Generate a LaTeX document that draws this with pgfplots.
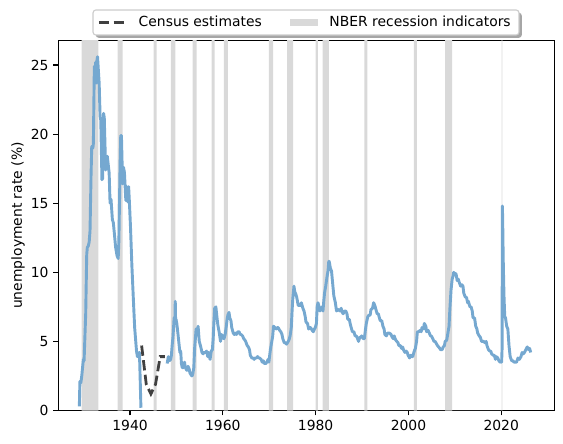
\documentclass[border=0pt]{standalone}
\usepackage{pgfplots}
\pgfplotsset{compat=1.18}
\usepackage{fontspec}
\setmainfont{DejaVu Sans}
\definecolor{recgray}{RGB}{217,217,217}
\definecolor{blueln}{RGB}{117,168,208}
\definecolor{censusc}{RGB}{64,64,64}
\begin{document}
\begin{tikzpicture}
\useasboundingbox (-42pt,-23.4pt) rectangle (363.4pt,295.6pt);
% legend frame and shadow
\fill[black!35, rounded corners=2pt] (27pt,268.4pt) rectangle (333.7pt,286.4pt);
\filldraw[fill=white, draw=black!20, line width=0.8pt, rounded corners=2pt] (25pt,270.4pt) rectangle (331.7pt,288.4pt);
\begin{axis}[
  at={(0pt,0pt)}, anchor=south west,
  width=357.1pt, height=266.3pt, scale only axis,
  xmin=1924.55, xmax=2031.42, ymin=0, ymax=26.76,
  xtick={1940,1960,1980,2000,2020},
  ytick={0,5,10,15,20,25},
  /pgf/number format/1000 sep={},
  /pgf/number format/assume math mode=true,
  tick pos=left, tick align=outside, major tick length=3.5pt,
  every tick/.style={black, line width=0.8pt},
  axis line style={line width=0.8pt},
  tick label style={font=\fontsize{10}{12}\selectfont},
  ylabel={unemployment rate (\%)},
  ylabel style={at={(axis description cs:-0.0812,0.5)}, anchor=center, rotate=0, font=\fontsize{10}{12}\selectfont},
  legend columns=2,
  legend cell align=left,
  legend style={at={(axis description cs:0.07897,1.0492)}, anchor=west,
    draw=none, fill=none, inner sep=0pt, outer sep=0pt,
    nodes={inner sep=0pt, outer sep=0pt},
    font=\fontsize{10}{12}\selectfont,
    /tikz/every even column/.append style={column sep=20.6pt}},
]
% NBER recession bands
\addplot[fill=recgray, draw=none, forget plot] coordinates {
(1929.58,0)(1929.58,30)(1933.17,30)(1933.17,0)
(1937.33,0)(1937.33,30)(1938.42,30)(1938.42,0)
(1945.08,0)(1945.08,30)(1945.75,30)(1945.75,0)
(1948.83,0)(1948.83,30)(1949.75,30)(1949.75,0)
(1953.50,0)(1953.50,30)(1954.33,30)(1954.33,0)
(1957.58,0)(1957.58,30)(1958.25,30)(1958.25,0)
(1960.25,0)(1960.25,30)(1961.08,30)(1961.08,0)
(1969.92,0)(1969.92,30)(1970.83,30)(1970.83,0)
(1973.83,0)(1973.83,30)(1975.17,30)(1975.17,0)
(1980.00,0)(1980.00,30)(1980.50,30)(1980.50,0)
(1981.50,0)(1981.50,30)(1982.83,30)(1982.83,0)
(1990.50,0)(1990.50,30)(1991.17,30)(1991.17,0)
(2001.17,0)(2001.17,30)(2001.83,30)(2001.83,0)
(2007.92,0)(2007.92,30)(2009.42,30)(2009.42,0)
(2020.08,0)(2020.08,30)(2020.25,30)(2020.25,0)
};
% early series
\addplot[blueln, line width=2.1pt, line join=round, forget plot] coordinates {
(1929.08,0.3)(1929.20,2.1)(1929.40,2.0)(1929.60,2.5)(1929.80,3.2)(1929.95,3.7)
(1930.10,3.6)(1930.45,7.0)(1930.67,11.3)(1930.80,11.8)(1931.00,11.9)(1931.20,12.2)
(1931.38,13.0)(1931.60,17.0)(1931.75,19.1)(1932.00,19.0)(1932.10,19.3)(1932.31,24.9)
(1932.45,24.5)(1932.60,25.2)(1932.75,23.7)(1932.85,25.3)(1933.00,25.6)(1933.20,24.5)
(1933.35,23.7)(1933.55,21.3)(1933.70,21.0)(1933.95,16.7)(1934.10,16.8)(1934.30,21.5)
(1934.45,21.2)(1934.75,17.4)(1934.85,18.2)(1935.00,18.0)(1935.10,18.4)(1935.30,17.8)
(1935.50,17.2)(1935.70,15.0)(1935.90,15.3)(1936.20,13.8)(1936.40,13.6)(1936.60,12.9)
(1936.90,11.8)(1937.20,11.2)(1937.45,11.0)(1937.60,12.3)(1937.85,17.6)(1938.00,19.9)
(1938.15,19.9)(1938.40,16.4)(1938.60,17.6)(1938.80,17.2)(1939.10,15.2)(1939.30,16.2)
(1939.50,15.1)(1939.70,16.2)(1939.85,15.2)(1940.10,13.3)(1940.40,10.5)(1940.70,8.2)
(1941.00,6.0)(1941.40,4.3)(1941.60,3.9)(1941.80,4.1)(1942.00,4.2)(1942.10,3.4)(1942.35,0.2)
};
% BLS series
\addplot[blueln, line width=2.1pt, line join=round, forget plot] coordinates {
(1948.00,3.4)(1948.25,3.9)(1948.50,3.6)(1948.75,3.7)(1948.92,4.0)
(1949.08,4.7)(1949.25,5.3)(1949.42,6.2)(1949.50,6.7)(1949.67,6.6)(1949.75,7.9)(1949.83,6.4)(1949.92,6.6)
(1950.08,6.3)(1950.25,5.8)(1950.50,5.0)(1950.75,4.2)(1950.92,4.3)
(1951.08,3.4)(1951.25,3.1)(1951.50,3.1)(1951.75,3.5)(1951.92,3.1)
(1952.25,2.9)(1952.50,3.2)(1952.75,3.0)(1952.92,2.7)
(1953.33,2.5)(1953.50,2.6)(1953.75,3.1)(1953.92,4.5)
(1954.08,5.2)(1954.25,5.9)(1954.50,5.8)(1954.67,6.1)(1954.92,5.0)
(1955.25,4.6)(1955.50,4.2)(1955.75,4.1)(1955.92,4.2)
(1956.25,4.2)(1956.50,4.3)(1956.75,3.9)(1956.92,4.2)
(1957.25,3.7)(1957.50,4.3)(1957.75,4.4)(1957.92,5.2)
(1958.08,6.4)(1958.25,7.4)(1958.50,7.5)(1958.75,6.7)(1958.92,6.2)
(1959.25,5.6)(1959.50,5.0)(1959.75,5.5)(1959.92,5.3)
(1960.25,5.2)(1960.50,5.5)(1960.75,6.1)(1960.92,6.6)
(1961.08,6.9)(1961.33,7.1)(1961.50,6.7)(1961.75,6.5)(1961.92,6.0)
(1962.25,5.6)(1962.50,5.5)(1962.75,5.6)(1962.92,5.5)
(1963.25,5.7)(1963.50,5.7)(1963.75,5.5)(1963.92,5.5)
(1964.25,5.4)(1964.50,5.2)(1964.75,5.1)(1964.92,5.0)
(1965.25,4.7)(1965.50,4.6)(1965.75,4.4)(1965.92,4.0)
(1966.25,3.8)(1966.50,3.8)(1966.75,3.7)(1966.92,3.8)
(1967.25,3.8)(1967.50,3.9)(1967.75,3.8)(1967.92,3.8)
(1968.25,3.7)(1968.50,3.5)(1968.75,3.6)(1968.92,3.4)
(1969.25,3.4)(1969.50,3.5)(1969.75,3.7)(1969.92,3.5)
(1970.25,4.4)(1970.50,4.9)(1970.75,5.4)(1970.92,6.1)
(1971.25,6.0)(1971.50,5.9)(1971.75,6.0)(1971.92,6.0)
(1972.25,5.8)(1972.50,5.7)(1972.75,5.5)(1972.92,5.2)
(1973.25,4.9)(1973.50,4.9)(1973.75,4.8)(1973.92,4.9)
(1974.25,5.1)(1974.50,5.4)(1974.75,6.0)(1974.92,7.2)
(1975.08,8.1)(1975.33,9.0)(1975.50,8.6)(1975.75,8.4)(1975.92,8.2)
(1976.25,7.6)(1976.50,7.6)(1976.75,7.6)(1976.92,7.8)
(1977.25,7.4)(1977.50,7.2)(1977.75,6.8)(1977.92,6.4)
(1978.25,6.3)(1978.50,5.9)(1978.75,6.0)(1978.92,6.0)
(1979.25,5.8)(1979.50,5.7)(1979.75,5.9)(1979.92,6.0)
(1980.17,6.3)(1980.33,7.5)(1980.50,7.8)(1980.75,7.5)(1980.92,7.2)
(1981.17,7.4)(1981.42,7.5)(1981.58,7.2)(1981.75,7.9)(1981.92,8.5)
(1982.17,9.0)(1982.42,9.6)(1982.67,10.1)(1982.83,10.8)(1982.92,10.8)
(1983.17,10.3)(1983.42,10.1)(1983.67,9.2)(1983.92,8.3)
(1984.25,7.8)(1984.50,7.2)(1984.75,7.3)(1984.92,7.3)
(1985.25,7.2)(1985.50,7.4)(1985.75,7.1)(1985.92,7.0)
(1986.25,7.2)(1986.50,7.2)(1986.75,7.0)(1986.92,6.6)
(1987.25,6.6)(1987.50,6.2)(1987.75,5.9)(1987.92,5.7)
(1988.25,5.7)(1988.50,5.4)(1988.75,5.4)(1988.92,5.3)
(1989.25,5.0)(1989.50,5.3)(1989.75,5.3)(1989.92,5.4)
(1990.25,5.2)(1990.50,5.2)(1990.75,5.9)(1990.92,6.3)
(1991.25,6.8)(1991.50,6.9)(1991.75,6.9)(1991.92,7.3)
(1992.25,7.4)(1992.50,7.8)(1992.75,7.6)(1992.92,7.4)
(1993.25,7.0)(1993.50,7.0)(1993.75,6.7)(1993.92,6.5)
(1994.25,6.5)(1994.50,6.1)(1994.75,5.9)(1994.92,5.5)
(1995.25,5.4)(1995.50,5.6)(1995.75,5.6)(1995.92,5.6)
(1996.25,5.5)(1996.50,5.3)(1996.75,5.2)(1996.92,5.4)
(1997.25,5.1)(1997.50,5.0)(1997.75,4.9)(1997.92,4.7)
(1998.25,4.7)(1998.50,4.5)(1998.75,4.6)(1998.92,4.4)
(1999.25,4.2)(1999.50,4.3)(1999.75,4.2)(1999.92,4.0)
(2000.25,3.8)(2000.50,4.0)(2000.75,3.9)(2000.92,3.9)
(2001.25,4.3)(2001.50,4.5)(2001.75,5.0)(2001.92,5.7)
(2002.25,5.7)(2002.50,5.8)(2002.75,5.7)(2002.92,6.0)
(2003.25,5.9)(2003.42,6.3)(2003.75,6.1)(2003.92,5.7)
(2004.25,5.8)(2004.50,5.6)(2004.75,5.4)(2004.92,5.4)
(2005.25,5.2)(2005.50,5.0)(2005.75,5.0)(2005.92,4.9)
(2006.25,4.7)(2006.50,4.6)(2006.75,4.5)(2006.92,4.4)
(2007.25,4.4)(2007.50,4.6)(2007.75,4.7)(2007.92,5.0)
(2008.25,5.1)(2008.50,5.6)(2008.75,6.1)(2008.92,7.3)
(2009.17,8.7)(2009.42,9.5)(2009.67,9.8)(2009.75,10.0)(2009.92,9.9)
(2010.25,9.9)(2010.50,9.4)(2010.75,9.5)(2010.92,9.3)
(2011.25,9.0)(2011.50,9.1)(2011.75,9.0)(2011.92,8.5)
(2012.25,8.2)(2012.50,8.2)(2012.75,7.8)(2012.92,7.9)
(2013.25,7.5)(2013.50,7.5)(2013.75,7.2)(2013.92,6.7)
(2014.25,6.7)(2014.50,6.1)(2014.75,5.9)(2014.92,5.6)
(2015.25,5.4)(2015.50,5.3)(2015.75,5.0)(2015.92,5.0)
(2016.25,5.0)(2016.50,4.9)(2016.75,5.0)(2016.92,4.7)
(2017.25,4.4)(2017.50,4.3)(2017.75,4.3)(2017.92,4.1)
(2018.25,4.0)(2018.50,4.0)(2018.75,3.7)(2018.92,3.9)
(2019.25,3.8)(2019.50,3.6)(2019.75,3.5)(2019.92,3.6)
(2020.00,3.5)(2020.08,3.5)(2020.17,4.4)(2020.25,14.8)(2020.33,13.2)(2020.42,11.0)
(2020.58,8.4)(2020.75,6.8)(2020.92,6.7)
(2021.17,6.1)(2021.42,5.9)(2021.67,4.7)(2021.92,3.9)
(2022.25,3.6)(2022.50,3.6)(2022.75,3.5)(2023.00,3.5)
(2023.30,3.5)(2023.60,3.8)(2023.90,3.7)
(2024.25,3.9)(2024.50,4.2)(2024.75,4.1)(2025.00,4.2)
(2025.30,4.4)(2025.60,4.6)(2025.90,4.4)(2026.10,4.5)(2026.35,4.2)
};
% Census estimates
\addplot[censusc, line width=2pt, dash pattern=on 7.4pt off 3.2pt,
  legend image code/.code={\path[draw=none,fill=none] (0pt,-4pt) rectangle (28.7pt,4pt); \draw[censusc, line width=2pt, dash pattern=on 7.4pt off 3.2pt] (0pt,0pt) -- (19pt,0pt);}] coordinates {
(1942.5,4.7)(1943.5,1.9)(1944.5,1.2)(1945.5,1.9)(1946.5,3.9)(1947.5,3.9)
};
\addlegendentry{Census estimates}
\addlegendimage{legend image code/.code={\path[draw=none,fill=none] (0pt,-4pt) rectangle (28.1pt,4pt); \fill[recgray, draw=none] (0pt,-2.5pt) rectangle (19.7pt,2.5pt);}}
\addlegendentry{NBER recession indicators}
\end{axis}
\end{tikzpicture}
\end{document}
